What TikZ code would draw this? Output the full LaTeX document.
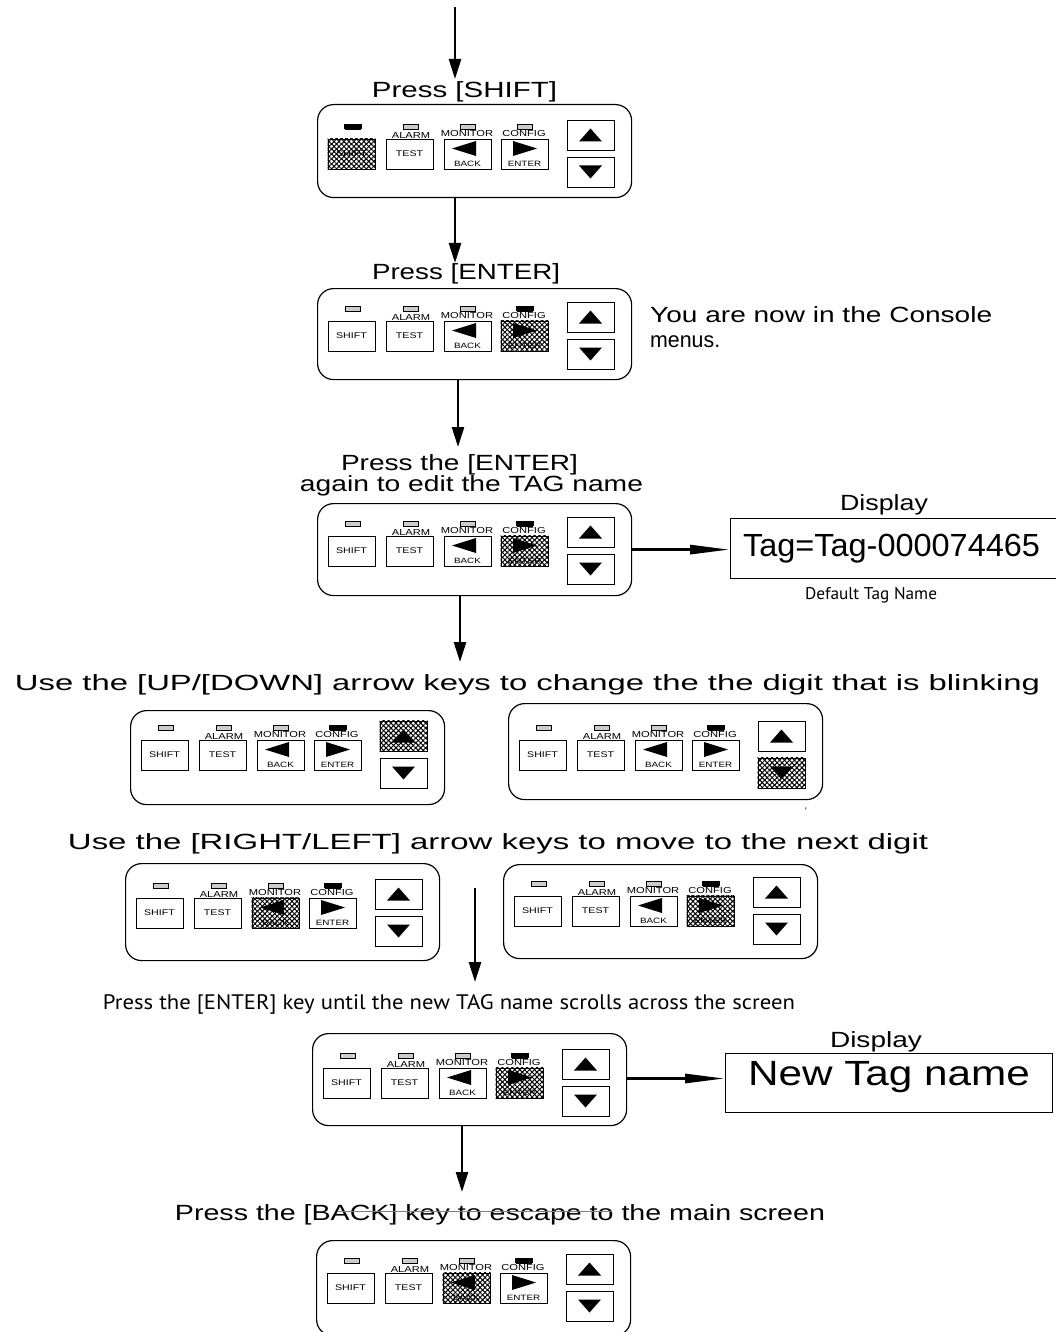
\documentclass[tikz,border=0pt]{standalone}
\usepackage{fontspec}
\setmainfont{Liberation Sans}
\newfontfamily\myr{PT Sans}
\usepackage{graphicx}
\usetikzlibrary{arrows.meta,patterns.meta}

\newcommand\fitw[3]{\resizebox{#1pt}{\height}{\fontsize{#2pt}{#2pt}\selectfont #3}}
\newcommand\sml[2]{\scalebox{1.28}[1]{\fontsize{#1pt}{#1pt}\selectfont #2}}

\tikzset{
  panelbox/.style={draw, line width=1.2pt, rounded corners=16pt, minimum width=314pt, inner sep=0},
  keybox/.style={draw, line width=0.9pt, minimum width=47pt, minimum height=30pt, inner sep=0},
  ledoff/.style={draw, line width=0.6pt, fill=black!20, minimum width=15pt, minimum height=4.5pt, inner sep=0},
  ledon/.style={fill=black, minimum width=18pt, minimum height=5pt, inner sep=0},
  flowarrow/.style={line width=2.6pt, -{Triangle[length=20pt,width=12pt]}},
  disparrow/.style={line width=3pt, -{Triangle[length=40pt,width=9pt]}},
  lbl/.style={inner sep=0, anchor=base},
  lblw/.style={inner sep=0, anchor=base west},
  dispbox/.style={draw, line width=1pt, inner sep=0, anchor=north west}
}

\newcommand\hatchkey[1]{%
  \fill[pattern={Lines[angle=45,distance=3.5pt,line width=1pt]}] (#1.south west) rectangle (#1.north east);
  \fill[pattern={Lines[angle=-45,distance=3.5pt,line width=1pt]}] (#1.south west) rectangle (#1.north east);}

% #1 name, #2 X, #3 Y (key layout), #4 outline top, #5 outline height, #6 hatched key, #7 lit LED x
\newcommand\panel[7]{%
  \node[panelbox, minimum height=#5pt, anchor=north west] (#1) at (#2,#4) {};
  \begin{scope}[shift={(#2,#3)}]
    \node[ledoff] (#1l1) at (35.5,21) {};
    \node[ledoff] (#1l2) at (94,21) {};
    \node[ledoff] (#1l3) at (151,21) {};
    \node[ledoff] (#1l4) at (208,21) {};
    \node[ledon] (#1lon) at (#7,20.5) {};
    \node[keybox] (#1s) at (34.5,48) {\sml{8.3}{SHIFT}};
    \node[keybox] (#1t) at (92.5,48) {\sml{8.3}{TEST}};
    \node[keybox] (#1b) at (150.5,48) {};
    \node[keybox] (#1e) at (207.5,48) {};
    \node[keybox] (#1u) at (273.5,29) {};
    \node[keybox] (#1d) at (273.5,66) {};
    \node[lbl] (#1ta) at (94,32.5) {\sml{8.7}{ALARM}};
    \node[lbl] (#1tm) at (150,30.5) {\sml{8.7}{MONITOR}};
    \node[lbl] (#1tc) at (207,30.5) {\sml{8.7}{CONFIG}};
    \node[inner sep=0] (#1tb) at (150.5,58) {\sml{7.7}{BACK}};
    \node[inner sep=0] (#1te) at (207.5,58) {\sml{7.7}{ENTER}};
    \hatchkey{#1#6}
    \fill (135,42.5) -- (159,35) -- (159,50) -- cycle;
    \fill (220,42.5) -- (196,35) -- (196,50) -- cycle;
    \fill (262,35.5) -- (285,35.5) -- (273.5,22.5) -- cycle;
    \fill (262,59.5) -- (285,59.5) -- (273.5,72.5) -- cycle;
  \end{scope}}

\begin{document}
\begin{tikzpicture}[x=1pt,y=-1pt]
\fill[white] (0,0) rectangle (1055,1332);
\path[use as bounding box] (0,0) rectangle (1055,1332);

% panels
\panel{pA}{317}{106}{104}{93}{s}{35.5}
\panel{pB}{317}{288}{288}{91}{e}{208}
\panel{pC}{317}{503}{503}{92}{e}{208}
\panel{pD}{130}{707}{710}{94}{u}{208}
\panel{pE}{508}{707}{703}{96}{d}{208}
\panel{pF}{125}{865}{863}{97}{b}{208}
\panel{pG}{503}{863}{864}{94}{e}{208}
\panel{pH}{312}{1035}{1033}{92}{e}{208}
\panel{pI}{316}{1240}{1240}{95}{b}{208}

% texts
\node[lbl] (t1) at (464.5,98) {\fitw{185}{22}{Press [SHIFT]}};
\node[lbl] (t2) at (466,279) {\fitw{188}{22}{Press [ENTER]}};
\node[lbl] (t3) at (459.5,470) {\fitw{237}{22}{Press the [ENTER]}};
\node[lbl] (t4) at (471.5,491) {\fitw{343}{22}{again to edit the TAG name}};
\node[lblw] (t5) at (650,322) {\fitw{342}{22}{You are now in the Console}};
\node[lblw] (t6) at (650,347) {\fitw{70}{22}{menus.}};
\node[lbl] (t7) at (884,510) {\fitw{88}{22}{Display}};
\node[dispbox, minimum width=332pt, minimum height=60pt] (d1) at (730,518) {};
\node[lbl] (t8) at (891.5,556) {\fitw{297}{32}{Tag=Tag-000074465}};
\node[lbl] (t9) at (871,599) {\fitw{132}{17}{\myr Default Tag Name}};
\node[lbl] (t10) at (527.5,690) {\fitw{1025}{22}{Use the [UP/[DOWN] arrow keys to change the the digit that is blinking}};
\node[lbl] (t10b) at (806,814) {\fontsize{10pt}{10pt}\selectfont `};
\node[lbl] (t11) at (498,849) {\fitw{860}{22}{Use the [RIGHT/LEFT] arrow keys to move to the next digit}};
\node[lbl] (t12) at (449,1009) {\fitw{692}{21}{\myr Press the [ENTER] key until the new TAG name scrolls across the screen}};
\node[lbl] (t13) at (876,1047) {\fitw{92}{22}{Display}};
\node[dispbox, minimum width=327pt, minimum height=59pt] (d2) at (725,1053) {};
\node[lbl] (t14) at (889,1085) {\fitw{282}{35}{New Tag name}};
\node[lbl] (t15) at (500,1220) {\fitw{650}{22}{Press the [BACK] key to escape to the main screen}};
\coordinate (g1) at (337,1211);
\coordinate (g2) at (612,1211);
\draw[black!50, line width=1pt] (g1) -- (g2);

% flow arrows
\coordinate (a0s) at (455,7);   \coordinate (a0e) at (455,79);
\coordinate (a1s) at (455,197); \coordinate (a1e) at (455,263);
\coordinate (a2s) at (458,379); \coordinate (a2e) at (458,447);
\coordinate (a3s) at (460,595); \coordinate (a3e) at (460,662);
\coordinate (a4s) at (475,888); \coordinate (a4e) at (475,982);
\coordinate (a5s) at (462,1125);\coordinate (a5e) at (462,1192);
\draw[flowarrow] (a0s) -- (a0e);
\draw[flowarrow] (a1s) -- (a1e);
\draw[flowarrow] (a2s) -- (a2e);
\draw[flowarrow] (a3s) -- (a3e);
\draw[flowarrow] (a4s) -- (a4e);
\draw[flowarrow] (a5s) -- (a5e);

\draw[disparrow] (pC.east) -- (pC.east -| d1.west);
\coordinate (h2e) at ([yshift=4.5pt]d2.west);
\draw[disparrow] (pH.east |- h2e) -- (h2e);
\end{tikzpicture}
\end{document}
